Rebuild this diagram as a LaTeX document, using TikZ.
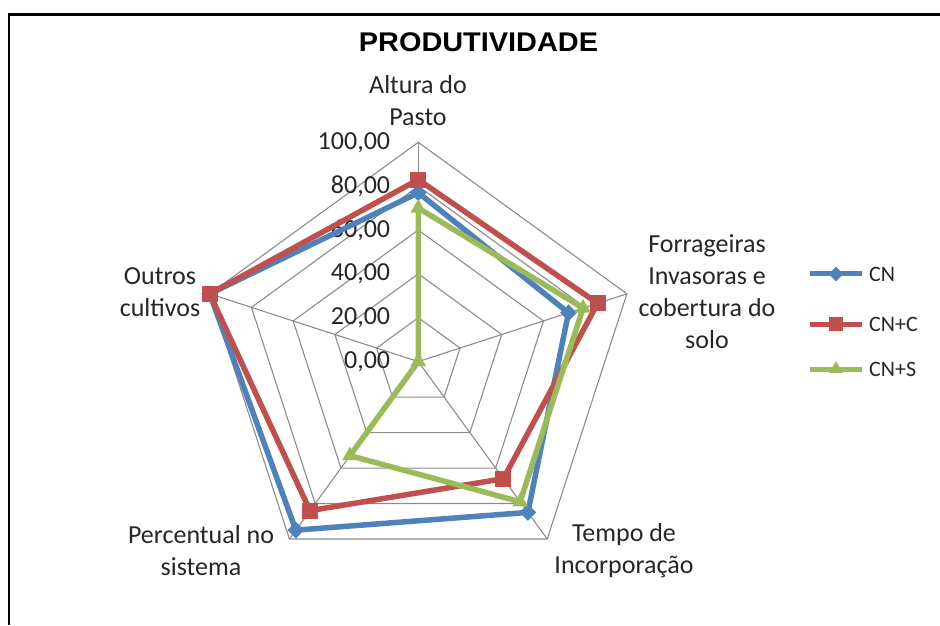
\documentclass[tikz,border=0pt]{standalone}
\usepackage{fontspec}
\setmainfont{Carlito}
\newfontfamily\titlefont[FakeStretch=1.07]{Liberation Sans}
\usetikzlibrary{shapes.geometric}
\definecolor{cnblue}{HTML}{4F81BD}
\definecolor{cncred}{HTML}{C0504D}
\definecolor{cnsgreen}{HTML}{9BBB59}

\begin{document}
\begin{tikzpicture}[
    x=1pt,
    y=1pt,
    frame/.style={
        line width=2.5pt
    },
    webline/.style={
        draw=black!45,
        line width=1.1pt
    },
    axislabel/.style={
        anchor=east,
        inner sep=0pt,
        text=black!85,
        font=\fontsize{26}{26}\selectfont
    },
    catlabel/.style={
        align=center,
        inner sep=0pt,
        text=black!85,
        font=\fontsize{26}{32}\selectfont
    },
    legtext/.style={
        anchor=west,
        inner sep=0pt,
        text=black!85,
        font=\fontsize{22}{22}\selectfont
    },
    series/.style={
        line width=5.5pt,
        line join=round
    },
    cnline/.style={series, draw=cnblue},
    cncline/.style={series, draw=cncred},
    cnsline/.style={series, draw=cnsgreen},
    cnmark/.style={
        diamond,
        fill=cnblue,
        inner sep=0pt,
        minimum size=17pt
    },
    cncmark/.style={
        rectangle,
        fill=cncred,
        inner sep=0pt,
        minimum size=16pt
    },
    cnsmark/.style={
        regular polygon,
        regular polygon sides=3,
        fill=cnsgreen,
        inner sep=0pt,
        minimum size=18pt
    }
]
    \useasboundingbox (0,0) rectangle (940,625);

    % Frame
    \draw[frame] (9,0) -- (9,610.5) -- (940,610.5);

    % Title
    \node[font=\titlefont\bfseries\fontsize{27}{27}\selectfont] (title) at (478.5,583) {PRODUTIVIDADE};

    \begin{scope}[shift={(418.3,263.4)}]
        % Web
        \foreach \r in {20,40,...,100}
            \draw[webline] (90:{\r*2.193}) -- (18:{\r*2.193}) -- (-54:{\r*2.193})
                -- (-126:{\r*2.193}) -- (162:{\r*2.193}) -- cycle;
        \foreach \a in {90,18,-54,-126,162}
            \draw[webline] (0,0) -- (\a:219.3);

        % Scale
        \foreach \v in {0,20,...,100}
            \node[axislabel] (tick\v) at (-28,{\v*2.193}) {\v,00};

        % CN
        \foreach \v [count=\i] in {77,72,85,95,100}
            \coordinate (cn\i) at ({162-72*\i}:{\v*2.193});
        \draw[cnline] (cn1) -- (cn2) -- (cn3) -- (cn4) -- (cn5) -- cycle;
        \foreach \i in {1,...,5}
            \node[cnmark] (cnm\i) at (cn\i) {};

        % CN+C
        \foreach \v [count=\i] in {83,86,66,84,100}
            \coordinate (cnc\i) at ({162-72*\i}:{\v*2.193});
        \draw[cncline] (cnc1) -- (cnc2) -- (cnc3) -- (cnc4) -- (cnc5) -- cycle;
        \foreach \i in {1,...,5}
            \node[cncmark] (cncm\i) at (cnc\i) {};

        % CN+S
        \foreach \v [count=\i] in {70,79,79,53,0}
            \coordinate (cns\i) at ({162-72*\i}:{\v*2.193});
        \draw[cnsline] (cns1) -- (cns2) -- (cns3) -- (cns4) -- (cns5) -- cycle;
        \foreach \i in {1,...,5}
            \node[cnsmark] (cnsm\i) at (cns\i) {};
    \end{scope}

    % Categories
    \node[catlabel] (altura) at (418,524.5) {Altura do\\Pasto};
    \node[catlabel] (forrageiras) at (707,333) {Forrageiras\\Invasoras e\\cobertura do\\solo};
    \node[catlabel] (tempo) at (624,74) {Tempo de\\Incorporação};
    \node[catlabel] (percentual) at (201,74) {Percentual no\\sistema};
    \node[catlabel] (outros) at (160,332.5) {Outros\\cultivos};

    % Legend
    \node[legtext] (cnkey) at (869,351) {CN};
    \node[legtext] (cnckey) at (869,301) {CN+C};
    \node[legtext] (cnskey) at (869,256) {CN+S};
    \draw[cnline, line width=5pt] ([xshift=-59pt]cnkey.west) -- ([xshift=-7pt]cnkey.west);
    \draw[cncline, line width=5pt] ([xshift=-59pt]cnckey.west) -- ([xshift=-7pt]cnckey.west);
    \draw[cnsline, line width=5pt] ([xshift=-59pt]cnskey.west) -- ([xshift=-7pt]cnskey.west);
    \node[cnmark, minimum size=15pt] (cnkeymark) at ([xshift=-33pt]cnkey.west) {};
    \node[cncmark, minimum size=14pt] (cnckeymark) at ([xshift=-33pt]cnckey.west) {};
    \node[cnsmark, minimum size=16pt] (cnskeymark) at ([xshift=-33pt]cnskey.west) {};

\end{tikzpicture}
\end{document}
